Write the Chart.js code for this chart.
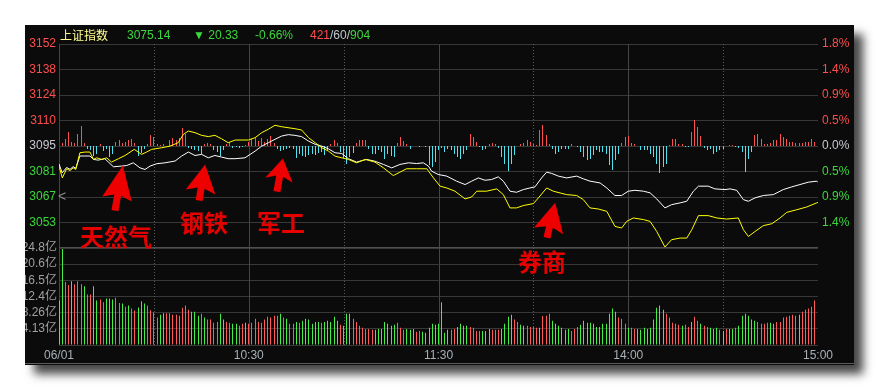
<!DOCTYPE html>
<html>
<head>
<meta charset="utf-8">
<script src="https://cdn.jsdelivr.net/npm/chart.js@4.4.1/dist/chart.umd.min.js"></script>
<style>
html,body{margin:0;padding:0;background:#ffffff;}
body{width:878px;height:391px;position:relative;overflow:hidden;}
#panel{position:absolute;left:25px;top:25px;width:829px;height:340px;background:#0b0b0b;box-shadow:9px 9px 9px rgba(0,0,0,0.72);}
#panelLine{position:absolute;left:25px;top:363px;width:829px;height:1px;background:#5c5c5c;}
canvas{position:absolute;}
#cPrice{left:25px;top:25px;}
#cVol{left:25px;top:240px;}
.t{position:absolute;white-space:nowrap;font-family:"Liberation Sans","Noto Sans CJK SC",sans-serif;font-size:12px;line-height:14px;}
.ann{position:absolute;white-space:nowrap;font-family:"Noto Sans CJK SC",sans-serif;font-weight:700;font-size:24px;line-height:24px;color:#e60000;}
</style>
</head>
<body>
<div id="panel"></div>
<canvas id="cPrice" width="829" height="224"></canvas>
<canvas id="cVol" width="829" height="125"></canvas>
<div id="panelLine"></div>

<div class="t" style="left:60px;top:28px;color:#ffff8c;font-family:'Noto Sans CJK SC',sans-serif;">上证指数</div>
<div class="t" style="left:127px;top:28px;color:#3cd83c;">3075.14</div>
<div class="t" style="left:193px;top:28px;color:#3cd83c;">▼ 20.33</div>
<div class="t" style="left:255px;top:28px;color:#3cd83c;">-0.66%</div>
<div class="t" style="left:310px;top:28px;"><span style="color:#ff4d4d">421</span><span style="color:#c0c8d0">/60/</span><span style="color:#3cd83c">904</span></div>
<div class="t" style="left:58px;top:189px;color:#8a8a8a;font-size:14px;">&lt;</div>

<div class="ann" style="left:80px;top:224px;">天然气</div>
<div class="ann" style="left:180px;top:210px;">钢铁</div>
<div class="ann" style="left:257px;top:210px;">军工</div>
<div class="ann" style="left:518px;top:249px;">券商</div>

<script>
// ---------- data ----------
const prevClose = 3095.47;
const priceStep = 14.2;
const priceTicks = [3152, 3138, 3124, 3110, 3095, 3081, 3067, 3053];
const pctTicks = ['1.8%', '1.4%', '0.9%', '0.5%', '0.0%', '0.5%', '0.9%', '1.4%'];
const volStep = 4.13;
const volTickLabels = ['4.13亿', '8.26亿', '12.4亿', '16.5亿', '20.6亿', '24.8亿'];
const timeTickMin = [0, 60, 120, 180, 240];
const timeLabels = ['06/01', '10:30', '11:30', '14:00', '15:00'];
const solidGridMin = [60, 120, 180];
const dottedGridMin = [30, 90, 150, 210];

// index (white line): minute, value
const idxMin = [0,1,2.4,3.5,4.5,5.3,6.6,8.2,9.8,10.9,12.4,14.5,17.2,19.8,21.4,23.5,25.6,27.2,28.8,30.9,33.5,36.7,38.8,40.9,43.0,45.1,47.2,49.3,51.4,53.5,55.7,58.8,62.0,64.1,66.2,68.3,70.4,72.5,74.6,76.7,78.9,81.0,83.1,85.2,87.3,89.4,91.5,
94.1,97.3,99.9,102.6,105.2,107.8,110.5,113.1,115.2,116.8,117.8,119.9,122.6,125.7,128.4,130.5,132.6,134.7,136.8,138.9,140.5,142.6,144.7,146.8,148.9,150.5,152.6,154.2,155.8,157.9,160.5,163.7,165.8,167.9,171.1,173.2,175.8,177.9,180.0,182.1,184.8,186.9,189.0,191.6,193.7,196.4,198.5,200.6,202.2,205.3,207.4,210.6,212.2,214.3,216.4,218.0,220.1,222.7,225.9,229.0,231.7,234.3,236.9,239.6,240];
const idxVal = [3085.5,3080.5,3083.5,3082.5,3084,3083,3089.9,3089.9,3089.9,3088.0,3087.6,3088.4,3083.9,3084.3,3084.6,3086.1,3083.3,3082.4,3084.3,3085.6,3086.1,3087.1,3089.9,3092.1,3090.2,3090.8,3088.9,3090.2,3089.3,3088.4,3088.4,3088.9,3092.6,3095.4,3097.3,3099.2,3101.0,3101.8,3101.4,3100.7,3098.2,3096.4,3095.4,3093.9,3091.7,3091.3,3088.4,
3086.5,3088.0,3087.0,3085.2,3083.3,3085.2,3086.1,3085.7,3086.1,3084.3,3081.5,3079.6,3078.7,3075.9,3074.0,3075.9,3077.7,3076.4,3076.8,3078.3,3075.9,3070.3,3069.7,3071.2,3072.1,3072.7,3077.7,3080.9,3080.2,3078.7,3077.7,3078.7,3077.2,3075.9,3074.9,3072.1,3067.9,3067.9,3070.3,3070.8,3070.3,3069.4,3066.0,3061.0,3062.8,3063.8,3064.7,3070.3,3073.1,3073.1,3071.6,3071.2,3071.6,3070.8,3065.6,3064.7,3066.6,3067.9,3068.4,3071.2,3072.7,3074.0,3075.3,3075.9,3075.14];

// average (yellow line): minute, value
const avgMin = [0,1.05,2.4,3.5,4.5,5.3,6.6,8.2,9.8,10.9,11.9,13.5,15.1,16.6,18.8,20.9,23.8,26.1,27.7,29.3,32.5,35.1,37.7,39.3,40.9,43.0,45.1,47.2,49.3,51.4,53.5,55.7,59.9,62.0,64.1,66.2,68.3,70.4,74.6,76.7,78.9,81.0,83.1,85.2,87.3,89.4,91.5,
94.1,96.8,99.9,102.6,105.7,107.8,109.9,113.1,116.3,118.4,120.5,122.6,125.2,128.4,130.5,132.1,135.2,138.4,140.5,142.6,144.7,146.8,150.0,151.6,154.2,156.3,160.5,163.7,165.8,167.9,170.5,173.2,175.8,177.9,179.5,181.6,184.8,186.9,189.0,191.6,193.7,196.4,198.5,200.1,202.2,205.3,208.0,211.1,214.8,216.4,218.0,220.1,222.7,225.4,228.0,230.1,233.3,236.4,239.6,240];
const avgVal = [3084.3,3077.7,3082.8,3081.8,3083.3,3082.4,3091.7,3092.1,3092.1,3088.0,3088.9,3088.0,3088.9,3086.5,3088.4,3090.2,3093.6,3090.8,3092.1,3093.6,3094.5,3095.4,3097.3,3101.9,3103.8,3102.9,3101.4,3100.7,3101.4,3099.5,3097.3,3098.8,3098.8,3100.1,3102.9,3104.8,3107.0,3106.2,3105.1,3104.4,3100.1,3097.3,3094.5,3092.6,3089.8,3088.9,3088.0,
3086.1,3088.0,3086.5,3083.3,3079.0,3080.9,3082.8,3082.8,3082.8,3077.7,3073.1,3072.1,3070.3,3066.0,3067.1,3070.3,3070.3,3071.6,3068.4,3061.0,3061.0,3062.3,3063.4,3066.6,3072.1,3070.3,3068.4,3067.9,3065.6,3061.0,3060.4,3059.1,3050.7,3049.8,3053.5,3055.4,3054.5,3053.5,3047.9,3039.2,3043.3,3044.2,3044.2,3048.9,3056.7,3056.7,3055.4,3054.8,3055.4,3048.9,3045.1,3047.9,3051.1,3052.2,3055.4,3058.5,3060.0,3061.5,3063.8,3064.0];

// red/cyan strength bars, one per minute
const breadth = [
0,3,7,14,4,3,12,20,3,-3,
-4,-10,-8,2,-5,-3,-11,-8,4,6,
3,4,6,7,3,-10,-7,-3,2,11,
9,2,1,2,0,6,8,6,8,18,
12,-2,-3,-4,-5,-8,2,3,2,-4,
-6,-10,-4,2,4,-2,-1,-2,-1,1,
4,7,8,5,8,4,7,10,3,-3,
-5,-4,-3,-2,-3,-12,-8,-10,-11,-9,
-8,-9,-7,-6,-9,-4,2,6,3,-6,
-12,-18,-11,-7,3,6,6,6,-3,-8,
-8,-4,-6,-13,-8,-10,-11,3,9,5,
2,-3,0,0,-1,0,-1,-19,-21,-16,
-4,-2,-6,-3,-4,-8,-11,-13,-8,-4,
12,9,4,-1,-4,-3,2,3,2,-2,
-11,-18,-25,-18,-9,0,2,3,6,4,
2,1,16,21,11,2,-3,-8,-6,-3,
-3,-3,2,0,-1,-6,-11,-14,-13,-9,
-4,-6,-6,-8,-19,-24,-14,-8,3,9,
10,3,2,0,-4,-4,-4,-8,-11,-18,
-27,-21,-18,1,7,7,2,2,-1,-1,
14,26,19,10,-2,-4,-3,-8,-6,-4,
-3,0,1,1,-1,-2,-6,-26,-13,-6,
11,12,7,2,2,3,6,6,12,9,
7,4,4,3,3,3,4,4,7,4,
2];

// volume (亿), one per minute
const volume = [
11.4,24.5,16.1,15.3,16.3,15.5,16.3,15.5,15.0,12.9,
12.9,15.0,11.4,11.6,10.9,11.9,11.9,11.6,12.1,10.7,
10.6,9.8,10.1,9.3,8.8,9.6,11.2,10.6,10.1,8.9,
8.3,7.0,7.7,8.1,8.1,8.1,7.7,7.7,7.5,9.5,
10.1,9.0,8.5,8.5,7.5,8.0,7.0,6.5,6.5,5.7,
5.9,8.0,6.5,5.9,5.7,5.4,5.4,4.9,5.4,5.7,
5.4,5.7,6.7,5.9,5.7,6.5,7.2,7.0,7.5,7.5,
8.0,7.0,6.7,5.4,5.4,5.9,5.7,6.2,6.7,6.5,
5.4,5.9,5.9,5.7,5.9,6.2,5.9,7.2,6.2,5.2,
4.9,8.0,8.0,6.7,5.9,4.9,4.4,4.1,4.1,3.9,
3.9,4.1,4.1,5.9,5.4,4.9,5.2,5.7,4.4,3.9,
4.1,3.9,4.1,3.4,3.6,3.4,3.1,4.4,5.4,5.2,5.4,
10.9,
3.1,3.9,3.9,4.1,4.6,5.4,4.9,4.9,4.6,4.4,
3.6,3.6,3.6,3.6,4.1,3.9,3.9,3.9,4.1,
5.4,7.2,7.7,6.5,5.9,5.2,4.9,4.9,4.6,4.6,
4.4,4.4,7.4,7.5,8.0,6.2,5.4,4.9,4.4,3.9,
4.1,3.6,4.1,4.6,5.2,6.2,5.7,5.7,5.4,
4.6,4.6,5.4,5.4,8.0,9.3,8.5,7.0,6.7,
5.4,4.4,4.4,4.1,4.1,3.9,4.4,4.1,4.4,
6.5,9.5,10.1,9.0,8.0,7.0,5.7,5.4,5.2,4.9,
5.2,4.6,5.9,7.2,6.2,5.4,4.9,4.6,4.4,4.1,
4.4,3.9,3.6,4.1,4.1,4.1,4.4,4.9,7.5,
8.0,7.5,6.5,6.2,5.9,5.4,5.4,5.7,5.7,5.4,
5.9,5.9,7.0,7.2,7.5,7.7,7.5,7.7,8.5,
9.0,9.3,9.8,11.4,14.7];
// 1 = up minute (red), 0 = down minute (green)
const volUp = [
0,0,1,1,0,1,1,1,0,1,
1,0,0,1,1,0,0,0,1,1,
0,1,0,1,1,0,0,0,1,1,
1,1,0,0,1,1,1,1,1,1,
1,1,0,0,0,1,0,1,1,1,
1,0,0,1,1,0,0,1,1,0,
1,1,1,1,1,1,1,1,1,1,
0,1,0,1,1,0,1,0,0,0,
0,0,0,1,0,0,0,0,0,1,
0,0,0,1,1,1,1,1,1,1,
0,0,0,0,0,0,0,1,1,1,
0,0,0,1,1,0,0,0,0,0,0,
0,
0,0,1,1,0,0,0,0,1,1,
1,1,0,0,0,1,1,1,0,
0,0,0,1,1,0,0,1,1,1,
1,0,1,1,1,0,0,0,0,0,
0,1,1,1,0,0,0,0,0,
0,0,0,0,0,0,0,1,1,
1,0,1,1,0,0,0,0,0,
0,0,0,0,1,1,1,1,1,0,
1,1,0,1,1,0,1,1,0,0,
0,1,0,1,0,0,1,0,0,
0,0,0,0,1,1,1,1,0,0,
1,1,1,1,1,1,1,0,1,
1,1,1,1,0];

// hand-drawn arrows: tail/tip in (minute, price)
const arrows = [
  {m0:17.7, p0:3059.5, m1:20.2, p1:3084.6, head:30, w:30},
  {m0:44.3, p0:3065.1, m1:46.2, p1:3085.2, head:24, w:30},
  {m0:68.9, p0:3070.1, m1:70.8, p1:3088.5, head:18, w:28},
  {m0:154.3, p0:3044.4, m1:156.9, p1:3063.9, head:25, w:30}
];

// ---------- styles ----------
const RED = '#ff4d4d', GREEN = '#3cd83c', GREY0 = '#c8c8d0';
const GRID = '#383838', VGRID = '#454545';
const FONT = {family: '"Liberation Sans","Noto Sans CJK SC",sans-serif', size: 12};
Chart.defaults.font.family = FONT.family;
Chart.defaults.font.size = 12;

const pMin = prevClose - 4 * priceStep, pMax = prevClose + 4 * priceStep;
const priceTickVals = priceTicks.map((_, i) => prevClose + (4 - i) * priceStep);
const tickColor = i => i < 4 ? RED : (i === 4 ? GREY0 : GREEN);

function zeroPad(s) { s.paddingTop = 0; s.paddingBottom = 0; s.paddingLeft = 0; s.paddingRight = 0; }

const vGrid = {
  id: 'vgrid',
  beforeDatasetsDraw(chart) {
    const {ctx, chartArea: a, scales} = chart;
    const x = scales.x;
    ctx.save();
    ctx.lineWidth = 1;
    ctx.strokeStyle = VGRID;
    const vline = px => { ctx.beginPath(); ctx.moveTo(px, a.top); ctx.lineTo(px, a.bottom); ctx.stroke(); };
    vline(Math.round(a.left) + 0.5);
    solidGridMin.forEach(m => vline(Math.round(x.getPixelForValue(m)) + 0.5));
    ctx.setLineDash([1, 2]);
    ctx.strokeStyle = '#5a5a5a';
    dottedGridMin.forEach(m => vline(Math.round(x.getPixelForValue(m)) + 0.5));
    ctx.restore();
    // snap 1px bars to whole pixels so they stay crisp
    chart.data.datasets.forEach((ds, di) => {
      const meta = chart.getDatasetMeta(di);
      if (meta.type !== 'bar') return;
      meta.data.forEach(el => { el.x = Math.round(el.x - 0.5) + 0.5; });
    });
  }
};

const deco = {
  id: 'deco',
  afterDatasetsDraw(chart) {
    const {ctx, chartArea: a, scales} = chart;
    ctx.save();
    ctx.strokeStyle = '#505050';
    ctx.lineWidth = 2;
    ctx.beginPath(); ctx.moveTo(a.left, a.bottom); ctx.lineTo(a.right, a.bottom); ctx.stroke();
    ctx.fillStyle = '#ee0000';
    arrows.forEach(ar => {
      const x0 = scales.x.getPixelForValue(ar.m0), y0 = scales.y.getPixelForValue(ar.p0);
      const x1 = scales.x.getPixelForValue(ar.m1), y1 = scales.y.getPixelForValue(ar.p1);
      const dx = x1 - x0, dy = y1 - y0, len = Math.hypot(dx, dy);
      const ux = dx / len, uy = dy / len, nx = -uy, ny = ux;
      const hb = len - ar.head, sw = 3.5, hw = ar.w / 2;
      const P = (t, n) => [x0 + ux * t + nx * n, y0 + uy * t + ny * n];
      const pts = [P(0, -sw), P(hb, -sw), P(hb - 4, -hw), P(len, 0), P(hb - 4, hw), P(hb, sw), P(0, sw)];
      ctx.beginPath();
      ctx.moveTo(pts[0][0], pts[0][1]);
      pts.slice(1).forEach(p => ctx.lineTo(p[0], p[1]));
      ctx.closePath();
      ctx.fill();
    });
    ctx.restore();
  }
};

// ---------- price chart ----------
new Chart(document.getElementById('cPrice'), {
  type: 'line',
  data: {
    datasets: [
      {
        type: 'bar', yAxisID: 'yB', order: 3,
        data: breadth.map((v, i) => ({x: i, y: v})),
        backgroundColor: breadth.map(v => v >= 0 ? '#ff5050' : '#4fe3f0'),
        barThickness: 1, borderWidth: 0, inflateAmount: 0
      },
      {
        label: 'index', yAxisID: 'y', order: 2,
        data: idxMin.map((m, i) => ({x: m, y: idxVal[i]})),
        borderColor: '#ffffff', borderWidth: 1, pointRadius: 0, tension: 0, fill: false
      },
      {
        label: 'avg', yAxisID: 'y', order: 1,
        data: avgMin.map((m, i) => ({x: m, y: avgVal[i]})),
        borderColor: '#ffff00', borderWidth: 1, pointRadius: 0, tension: 0, fill: false
      }
    ]
  },
  options: {
    responsive: false, animation: false, devicePixelRatio: 1, events: [],
    layout: {padding: {top: 19, bottom: 1, left: 0, right: 0}},
    plugins: {legend: {display: false}, tooltip: {enabled: false}},
    scales: {
      x: {type: 'linear', min: 0, max: 240, offset: false, display: false},
      y: {
        position: 'left', min: pMin, max: pMax,
        afterBuildTicks: s => { s.ticks = priceTickVals.map(v => ({value: v})); },
        afterFit: s => { s.width = 34; zeroPad(s); },
        ticks: {autoSkip: false, padding: 3, font: FONT,
          callback: (v, i) => priceTicks[i], color: c => tickColor(c.index)},
        grid: {color: GRID, drawTicks: false, lineWidth: 1},
        border: {display: false}
      },
      yPct: {
        position: 'right', min: pMin, max: pMax,
        afterBuildTicks: s => { s.ticks = priceTickVals.map(v => ({value: v})); },
        afterFit: s => { s.width = 36; zeroPad(s); },
        ticks: {autoSkip: false, padding: 4, font: FONT,
          callback: (v, i) => pctTicks[i], color: c => tickColor(c.index)},
        grid: {display: false, drawTicks: false},
        border: {display: false}
      },
      yB: {display: false, min: -102, max: 102}
    }
  },
  plugins: [vGrid, deco]
});

// ---------- volume chart ----------
new Chart(document.getElementById('cVol'), {
  type: 'bar',
  data: {
    datasets: [{
      data: volume.map((v, i) => ({x: i, y: v})),
      backgroundColor: volUp.map(u => u ? '#ff5a5a' : '#44ee44'),
      barThickness: 1, borderWidth: 0, inflateAmount: 0
    }]
  },
  options: {
    responsive: false, animation: false, devicePixelRatio: 1, events: [],
    layout: {padding: {top: 8, bottom: 4, left: 0, right: 36}},
    plugins: {legend: {display: false}, tooltip: {enabled: false}},
    scales: {
      x: {
        type: 'linear', min: 0, max: 240, offset: false,
        afterBuildTicks: s => { s.ticks = timeTickMin.map(v => ({value: v})); },
        afterFit: s => { s.height = 16; zeroPad(s); },
        ticks: {autoSkip: false, maxRotation: 0, padding: 3, font: FONT, color: '#a8b0b8',
          callback: (v, i) => timeLabels[i]},
        grid: {display: false, drawTicks: false},
        border: {display: false}
      },
      y: {
        position: 'left', min: 0, max: 6 * volStep,
        afterBuildTicks: s => { s.ticks = [0, 1, 2, 3, 4, 5, 6].map(k => ({value: k * volStep})); },
        afterFit: s => { s.width = 34; zeroPad(s); },
        ticks: {autoSkip: false, padding: 2, font: FONT, color: '#a0a0a0',
          callback: (v, i) => i === 0 ? '' : volTickLabels[i - 1]},
        grid: {color: GRID, drawTicks: false, lineWidth: 1},
        border: {display: false}
      }
    }
  },
  plugins: [vGrid]
});
</script>
</body>
</html>
